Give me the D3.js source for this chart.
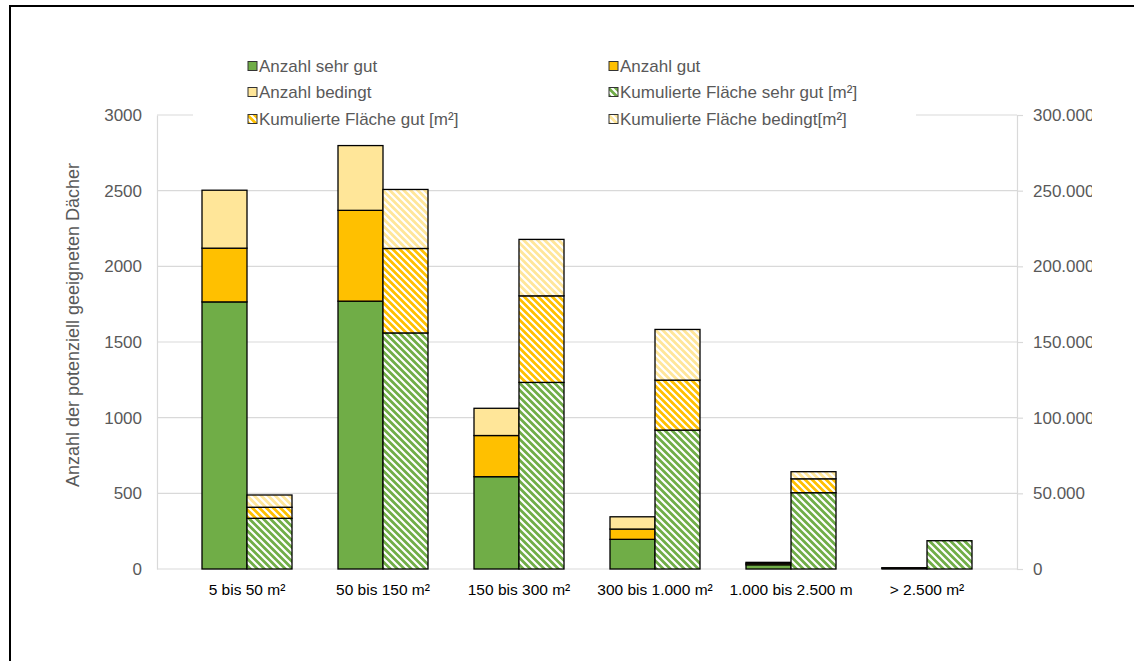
<!DOCTYPE html>
<html>
<head>
<meta charset="utf-8">
<script src="https://cdn.jsdelivr.net/npm/d3@7"></script>
<style>
  html, body { margin: 0; padding: 0; background: #fff; }
  svg { display: block; }
  text { font-family: "Liberation Sans", Arial, sans-serif; }
</style>
</head>
<body>
<svg id="chart" width="1134" height="661"></svg>
<script>
// Größenklassen der Dachflächen
const categories = ["5 bis 50 m²", "50 bis 150 m²", "150 bis 300 m²", "300 bis 1.000 m²", "1.000 bis 2.500 m", "> 2.500 m²"];

// Anzahl der Dächer je Eignung (linke Achse)
const anzahlSehrGut = [1765, 1770, 610, 196, 28, 5];
const anzahlGut     = [355, 600, 272, 68, 10, 2];
const anzahlBedingt = [383, 428, 180, 81, 6, 1];

// Kumulierte Fläche je Eignung in m² (rechte Achse)
const flaecheSehrGut = [33500, 156000, 123300, 91800, 50400, 18700];
const flaecheGut     = [7300, 55800, 57200, 33000, 9200, 0];
const flaecheBedingt = [8100, 39000, 37300, 33500, 4700, 0];

const leftTicks  = [0, 500, 1000, 1500, 2000, 2500, 3000];
const rightTicks = [0, 50000, 100000, 150000, 200000, 250000, 300000];

const legendLabels = [
  "Anzahl sehr gut", "Anzahl gut",
  "Anzahl bedingt", "Kumulierte Fläche sehr gut [m²]",
  "Kumulierte Fläche gut [m²]", "Kumulierte Fläche bedingt[m²]"
];

const GREEN = "#70AD47", GOLD = "#FFC000", LIGHT = "#FFE699";
const GRID = "#d9d9d9", TXT = "#595959";

const svg = d3.select("#chart");
const defs = svg.append("defs");

// diagonale Schraffur für die Flächen-Reihen
function hatch(id, color) {
  const p = defs.append("pattern")
    .attr("id", id).attr("patternUnits", "userSpaceOnUse")
    .attr("width", 7).attr("height", 7);
  p.append("rect").attr("width", 7).attr("height", 7).attr("fill", color);
  p.append("path")
    .attr("d", "M-1,-1 L8,8 M-8,-1 L1,8 M6,-1 L15,8")
    .attr("stroke", "#fff").attr("stroke-width", 2.2);
}
hatch("hGreen", GREEN);
hatch("hGold", GOLD);
hatch("hLight", LIGHT);

// Diagrammfläche endet rechts, die Beschriftung wird dort abgeschnitten
defs.append("clipPath").attr("id", "rightClip")
  .append("rect").attr("x", 0).attr("y", -30).attr("width", 75).attr("height", 60);

// Rahmen
svg.append("path")
  .attr("d", "M10,670 L10,6 L1140,6")
  .attr("fill", "none").attr("stroke", "#000").attr("stroke-width", 2);

const plotLeft = 157, plotRight = 1017;
const x = d3.scaleBand().domain(categories).range([179, 995]);
const y = d3.scaleLinear().domain([0, 3000]).range([569, 115]);
const y2 = d3.scaleLinear().domain([0, 300000]).range([569, 115]);
const barW = 45;

// Gitternetz
svg.append("g")
  .selectAll("line").data(leftTicks).join("line")
  .attr("x1", plotLeft).attr("x2", plotRight)
  .attr("y1", d => y(d)).attr("y2", d => y(d))
  .attr("stroke", GRID).attr("stroke-width", 1.2);

// linke Achse
const gL = svg.append("g").attr("transform", `translate(${plotLeft},0)`)
  .call(d3.axisLeft(y).tickValues(leftTicks).tickSize(0).tickPadding(15).tickFormat(d3.format("d")));
gL.select(".domain").attr("stroke", GRID).attr("stroke-width", 1.2);
gL.selectAll("text").attr("fill", TXT).style("font-size", "17px");

// rechte Achse
const fmt = d3.formatLocale({ decimal: ",", thousands: ".", grouping: [3], currency: ["", "€"] }).format(",d");
const gR = svg.append("g").attr("transform", `translate(${plotRight},0)`)
  .call(d3.axisRight(y2).tickValues(rightTicks).tickSize(6).tickPadding(10).tickFormat(fmt));
gR.select(".domain").attr("stroke", GRID).attr("stroke-width", 1.2);
gR.selectAll(".tick line").attr("stroke", GRID).attr("stroke-width", 1.2);
gR.selectAll("text").attr("fill", TXT).style("font-size", "17px").attr("clip-path", "url(#rightClip)");

// Achsentitel
svg.append("text")
  .attr("transform", "translate(79,325) rotate(-90)")
  .attr("text-anchor", "middle").attr("fill", TXT).style("font-size", "18px")
  .text("Anzahl der potenziell geeigneten Dächer");

// Kategorienbeschriftung
svg.append("g").selectAll("text").data(categories).join("text")
  .attr("x", d => x(d) + x.bandwidth() / 2).attr("y", 595)
  .attr("text-anchor", "middle").attr("fill", "#000").style("font-size", "15.5px")
  .text(d => d);

// gestapelte Säulen
function stackBars(series, fills, scale, offset) {
  const keys = series.map((_, i) => "s" + i);
  const rows = categories.map((c, j) => {
    const r = { cat: c };
    series.forEach((s, i) => r["s" + i] = s[j]);
    return r;
  });
  const stacked = d3.stack().keys(keys)(rows);
  const g = svg.append("g");
  stacked.forEach((layer, i) => {
    g.selectAll(null).data(layer.filter(d => d[1] > d[0])).join("rect")
      .attr("x", d => x(d.data.cat) + x.bandwidth() / 2 + offset)
      .attr("width", barW)
      .attr("y", d => scale(d[1]))
      .attr("height", d => scale(d[0]) - scale(d[1]))
      .attr("fill", fills[i])
      .attr("stroke", "#000").attr("stroke-width", 1.3);
  });
}
stackBars([anzahlSehrGut, anzahlGut, anzahlBedingt], [GREEN, GOLD, LIGHT], y, -barW);
stackBars([flaecheSehrGut, flaecheGut, flaecheBedingt], ["url(#hGreen)", "url(#hGold)", "url(#hLight)"], y2, 0);

// Legende
const legendFills = [GREEN, GOLD, LIGHT, "url(#hGreen)", "url(#hGold)", "url(#hLight)"];
const lg = svg.append("g");
lg.append("rect").attr("x", 193).attr("y", 52).attr("width", 723).attr("height", 78).attr("fill", "#fff");
const items = lg.selectAll("g.item").data(legendLabels).join("g")
  .attr("transform", (d, i) => `translate(${i % 2 === 0 ? 248 : 609},${[66, 92, 119][Math.floor(i / 2)]})`);
items.append("rect").attr("x", 0).attr("y", -4.5).attr("width", 9).attr("height", 9)
  .attr("fill", (d, i) => legendFills[i]).attr("stroke", "#333").attr("stroke-width", 1);
items.append("text").attr("x", 11).attr("y", 0).attr("dy", "0.35em")
  .attr("fill", TXT).style("font-size", "17px").text(d => d);
</script>
</body>
</html>
